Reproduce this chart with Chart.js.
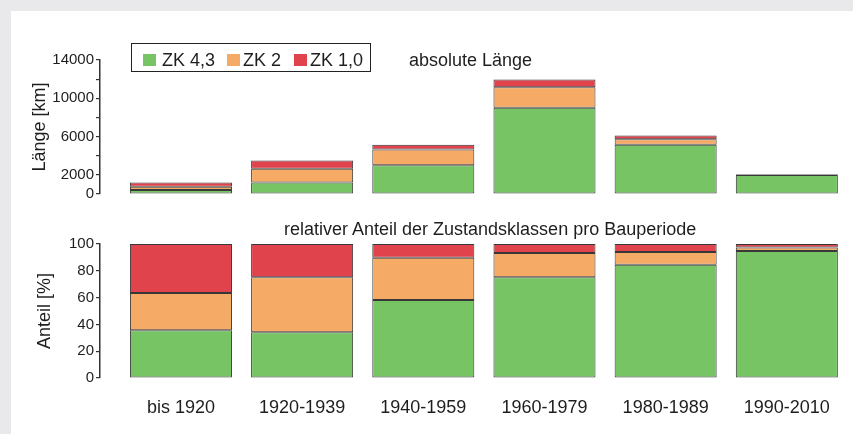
<!DOCTYPE html>
<html>
<head>
<meta charset="utf-8">
<script src="https://cdn.jsdelivr.net/npm/chart.js@4"></script>
<style>
  body { margin:0; background:#e9e9eb; font-family:"Liberation Sans", Arial, sans-serif; color:#1e1e1e; }
  #page { position:relative; width:853px; height:434px; overflow:hidden; }
  #panel { position:absolute; left:11px; top:11px; width:842px; height:423px; background:#fff; }
  canvas { position:absolute; left:0; }
  .txt { position:absolute; font-size:18px; line-height:18px; white-space:nowrap; }
  #legend { position:absolute; left:131px; top:43px; width:238px; height:27px; border:1.5px solid #222; }
  .sw { position:absolute; width:13px; height:12px; }
</style>
</head>
<body>
<div id="page">
  <div id="panel"></div>
  <canvas id="absChart" style="top:0" width="853" height="210"></canvas>
  <canvas id="relChart" style="top:210px" width="853" height="224"></canvas>
  <div id="legend"></div>
  <div class="txt" style="left:409px; top:51px">absolute Länge</div>
  <div class="txt" style="left:284px; top:220px">relativer Anteil der Zustandsklassen pro Bauperiode</div>
</div>
<script>
// 1 DATA
const periods = ['bis 1920', '1920-1939', '1940-1959', '1960-1979', '1980-1989', '1990-2010'];
const classNames = ['ZK 4,3', 'ZK 2', 'ZK 1,0'];
const classColors = ['#76c463', '#f5aa66', '#e0434b'];

// absolute length [km]
const absZK43 = [430, 1200, 3000, 9000, 5150, 1990];
const absZK2  = [330, 1430, 1650, 2150, 580, 55];
const absZK10 = [440, 870, 500, 800, 370, 55];

// relative share [%]
const relZK43 = [35.6, 34.1, 58.2, 75.1, 84.6, 94.8];
const relZK2  = [27.8, 41.0, 31.6, 18.2, 9.4, 2.5];
const relZK10 = [36.6, 24.9, 10.2, 6.7, 6.0, 2.7];

const absTickLabels = [0, 2000, 6000, 10000, 14000];
const relTickLabels = [0, 20, 40, 60, 80, 100];

// 2 LEGEND (html, box with border)
const legend = document.querySelector('#legend');
const swLeft = [11, 95, 162];
const txLeft = [30, 111, 178];
classNames.forEach((n, i) => {
    const s = document.createElement('div');
    s.className = 'sw';
    s.style.left = swLeft[i] + 'px';
    s.style.top = '10px';
    s.style.background = classColors[i];
    legend.appendChild(s);
    const t = document.createElement('div');
    t.className = 'txt';
    t.style.left = txLeft[i] + 'px';
    t.style.top = '7px';
    t.textContent = n;
    legend.appendChild(t);
});

// 3 HELPERS
const toPoints = arr => arr.map((v, i) => ({x: i, y: v}));

function makeSets(a, b, c){
    return [a, b, c].map((d, i) => ({
        label: classNames[i],
        data: toPoints(d),
        backgroundColor: classColors[i],
        borderColor: '#383838',
        borderWidth: 1,
        borderSkipped: false,
        categoryPercentage: 1,
        barPercentage: 0.842
    }));
}

function xScale(showLabels){
    return {
        type: 'linear',
        stacked: true,
        offset: false,
        min: -0.668,
        max: 5.48,
        display: showLabels,
        grid: {display: false, drawTicks: false, offset: false},
        border: {display: false},
        // one tick per building period
        afterBuildTicks: s => { s.ticks = periods.map((p, i) => ({value: i})); },
        afterFit: s => { if (showLabels) s.height = 56; },
        ticks: {
            autoSkip: false,
            maxRotation: 0,
            padding: 19,
            color: '#1e1e1e',
            font: {family: '"Liberation Sans", Arial, sans-serif', size: 18},
            callback: v => periods[v]
        }
    };
}

function yScale(max, step, labels, title, titlePad){
    return {
        stacked: true,
        min: 0,
        max: max,
        afterFit: s => { s.width = 100; },
        border: {display: true, color: '#333', width: 1.5},
        grid: {drawOnChartArea: false, drawTicks: true, tickLength: 4, color: '#333', lineWidth: 1.2},
        ticks: {
            stepSize: step,
            autoSkip: false,
            padding: 2,
            color: '#1e1e1e',
            font: {family: '"Liberation Sans", Arial, sans-serif', size: 15},
            callback: v => labels.indexOf(v) !== -1 ? v : ''
        },
        title: {
            display: true,
            text: title,
            color: '#1e1e1e',
            padding: {top: titlePad, bottom: 0},
            font: {family: '"Liberation Sans", Arial, sans-serif', size: 18}
        }
    };
}

// 4 TOP CHART: absolute length
new Chart(document.querySelector('#absChart').getContext('2d'), {
    type: 'bar',
    data: {datasets: makeSets(absZK43, absZK2, absZK10)},
    options: {
        responsive: false,
        animation: false,
        layout: {padding: {left: 0, right: 8, top: 60, bottom: 16}},
        plugins: {legend: {display: false}, tooltip: {enabled: false}},
        scales: {
            x: xScale(false),
            y: yScale(14000, 2000, absTickLabels, 'Länge [km]', 29)
        }
    }
});

// 5 BOTTOM CHART: relative share
new Chart(document.querySelector('#relChart').getContext('2d'), {
    type: 'bar',
    data: {datasets: makeSets(relZK43, relZK2, relZK10)},
    options: {
        responsive: false,
        animation: false,
        layout: {padding: {left: 0, right: 8, top: 34, bottom: 0}},
        plugins: {legend: {display: false}, tooltip: {enabled: false}},
        scales: {
            x: xScale(true),
            y: yScale(100, 20, relTickLabels, 'Anteil [%]', 34)
        }
    }
});
</script>
</body>
</html>
